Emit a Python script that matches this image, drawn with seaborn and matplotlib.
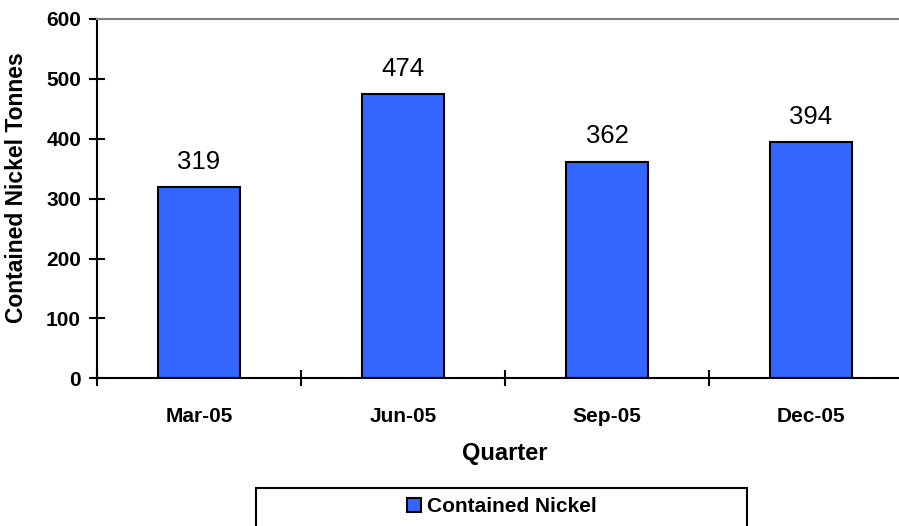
import matplotlib
matplotlib.use("Agg")
import matplotlib.pyplot as plt
from matplotlib.patches import Rectangle, Patch
import seaborn as sns
import pandas as pd

quarters = ["Mar-05", "Jun-05", "Sep-05", "Dec-05"]
nickel = [319, 474, 362, 394]
series_name = "Contained Nickel"
y_ticks = [0, 100, 200, 300, 400, 500, 600]

sns.set_style("white")
plt.rcParams["font.family"] = ["Liberation Sans", "DejaVu Sans"]
plt.rcParams["text.color"] = "black"
plt.rcParams["axes.labelcolor"] = "black"
plt.rcParams["xtick.color"] = "black"
plt.rcParams["ytick.color"] = "black"

W, H = 899, 526
fig = plt.figure(figsize=(W / 100, H / 100), dpi=100)
left, right, top, bottom = 97, 913, 19, 378.3
ax = fig.add_axes([left / W, 1 - bottom / H, (right - left) / W, (bottom - top) / H])

df = pd.DataFrame({"Quarter": quarters, "Value": nickel})
sns.barplot(data=df, x="Quarter", y="Value", color="#3366FF", saturation=1,
            edgecolor="black", linewidth=1.5, width=0.4, ax=ax)

ax.set_xlim(-0.5, len(quarters) - 0.5)
ax.set_ylim(0, 600)
ax.set_yticks(y_ticks)
ax.set_yticklabels([str(t) for t in y_ticks], fontsize=15, fontweight="bold")
ax.set_xticks(range(len(quarters)))
ax.set_xticklabels(quarters, fontsize=15, fontweight="bold")
ax.set_xticks([i - 0.5 for i in range(len(quarters) + 1)], minor=True)
ax.tick_params(axis="x", which="both", bottom=True, top=False)
ax.tick_params(axis="y", which="both", left=True, right=False)
ax.tick_params(axis="x", which="major", length=0, pad=21)
ax.tick_params(axis="x", which="minor", direction="inout", length=11, width=1.5, color="black")
ax.tick_params(axis="y", which="major", direction="inout", length=11, width=1.5, color="black", pad=6)

for s in ["left", "bottom"]:
    ax.spines[s].set_color("black")
    ax.spines[s].set_linewidth(1.5)
ax.spines["top"].set_color("#808080")
ax.spines["top"].set_linewidth(1.5)
ax.spines["right"].set_color("#808080")
ax.spines["right"].set_linewidth(1.5)

ax.set_xlabel("Quarter", fontsize=17, fontweight="bold", labelpad=11)
ax.set_ylabel("Contained Nickel Tonnes", fontsize=16.5, fontweight="bold")
ax.yaxis.set_label_coords((28 - left) / (right - left), (bottom - 188) / (bottom - top))

for i, v in enumerate(nickel):
    ax.annotate(str(v), xy=(i, v), xytext=(0, 13.5), textcoords="offset points",
                ha="center", va="baseline", fontsize=18.5, color="black")

# legend
fig.patches.append(Rectangle((256 / W, 1 - 545 / H), (747 - 256) / W, (545 - 487.5) / H,
                             transform=fig.transFigure, facecolor="white",
                             edgecolor="black", linewidth=1.5))
handle = Patch(facecolor="#3366FF", edgecolor="black", linewidth=1.5, label=series_name)
fig.legend(handles=[handle], loc="center", bbox_to_anchor=(502 / W, 1 - 507 / H),
           frameon=False, prop={"size": 15, "weight": "bold"},
           handlelength=0.67, handleheight=0.67, handletextpad=0.3,
           borderpad=0, borderaxespad=0, labelcolor="black")

fig.savefig("out.png", dpi=100)
